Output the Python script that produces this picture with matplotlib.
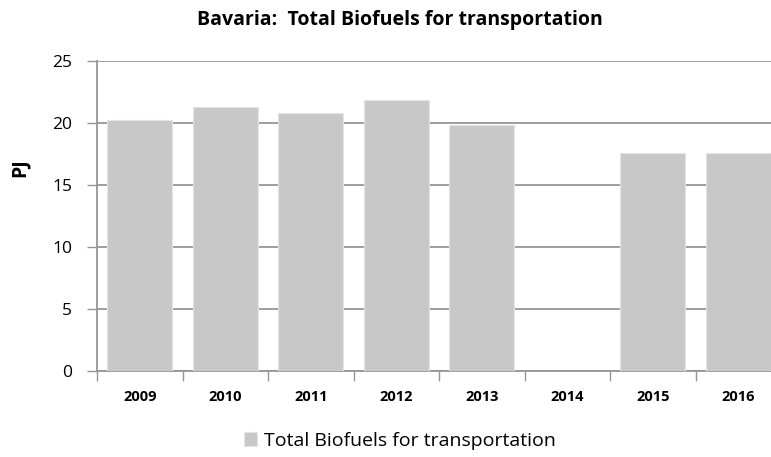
import matplotlib.pyplot as plt
import numpy as np

years = ['2009', '2010', '2011', '2012', '2013', '2014', '2015', '2016']
biofuels = [20.25, 21.3, 20.8, 21.85, 19.8, np.nan, 17.6, 17.6]
yticks = [0, 5, 10, 15, 20, 25]

plt.rcParams['font.family'] = ['Open Sans', 'DejaVu Sans']

W, H = 771, 457
fig = plt.figure(figsize=(W / 100, H / 100), dpi=100)
ax = fig.add_axes([97 / W, 1 - 371 / H, 8 * 85.5 / W, 310 / H])

x = np.arange(len(years))
ax.bar(x, biofuels, width=0.76, color='#c8c8c8', edgecolor='#e4e4e4', linewidth=0.8,
       label='Total Biofuels for transportation', zorder=3)

ax.set_xlim(-0.5, len(years) - 0.5)
ax.set_ylim(0, 25)
ax.set_yticks(yticks)
ax.set_yticklabels([str(t) for t in yticks], fontsize=12.5)
ax.grid(axis='y', color='#969696', linewidth=1.3, zorder=0)

ax.set_xticks(x)
ax.set_xticklabels(years, fontsize=10.5, fontweight='bold')
ax.tick_params(axis='x', which='major', length=0, pad=14)
ax.set_xticks(np.arange(-0.5, len(years), 1), minor=True)
ax.tick_params(axis='x', which='minor', length=7, color='#969696', width=1)
ax.tick_params(axis='y', length=7, color='#969696', width=1, pad=11)

for s in ['top', 'right']:
    ax.spines[s].set_visible(False)
for s in ['left', 'bottom']:
    ax.spines[s].set_color('#969696')
    ax.spines[s].set_linewidth(1.3)

# axis title sits a bit above the middle, like the original
ax.set_ylabel('PJ', fontsize=14, fontweight='bold')
ax.yaxis.set_label_coords((30 - 97) / 684, (371 - 168) / 310)

fig.text(400 / W, 1 - 20 / H, 'Bavaria:  Total Biofuels for transportation',
         ha='center', va='center', fontsize=14, fontweight='bold')

fig.legend(loc='center', bbox_to_anchor=(400 / W, 1 - 441 / H), frameon=False,
           fontsize=14, handlelength=0.7, handleheight=0.7, handletextpad=0.35)

fig.savefig('out.png', dpi=100)
